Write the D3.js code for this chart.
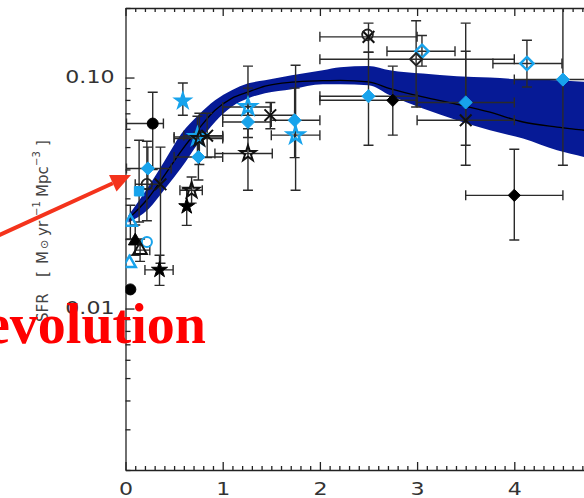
<!DOCTYPE html>
<html lang="en">
<head>
<meta charset="UTF-8">
<title>SFR evolution</title>
<script src="https://d3js.org/d3.v7.min.js"></script>
<style>
  body { margin: 0; background: #fff; }
  svg { display: block; }
  .axis path, .axis line { stroke: #222; stroke-width: 1.3px; }
  .axis text { font-family: "DejaVu Sans", sans-serif; font-size: 17px; fill: #333; }
  .err { stroke: #2a2a2a; stroke-width: 1.4px; fill: none; }
</style>
</head>
<body>
<div id="chart"></div>
<script>
// ---- data (redshift z, SFR density in Msun/yr/Mpc^3) ----
// fit band
const bandZ   = [0.03, 0.235, 0.406, 0.578, 0.749, 0.921, 1.093, 1.263, 1.435, 1.71, 2.03, 2.21, 2.5, 2.72, 3.06, 3.41, 3.75, 4.09, 4.44, 4.72, 5.0];
const bandHi  = [0.0253, 0.0337, 0.0439, 0.0574, 0.0687, 0.0797, 0.0881, 0.0944, 0.0973, 0.1023, 0.1075, 0.1108, 0.1122, 0.1075, 0.104, 0.1013, 0.100, 0.098, 0.0973, 0.0958, 0.095];
const bandLo  = [0.0236, 0.0269, 0.033, 0.0409, 0.052, 0.0642, 0.0747, 0.0813, 0.0855, 0.089, 0.0935, 0.0935, 0.0926, 0.0838, 0.0734, 0.0653, 0.0591, 0.0544, 0.0484, 0.0453, 0.042];
const bandMid = [0.0245, 0.0301, 0.038, 0.0484, 0.0597, 0.0722, 0.0813, 0.0866, 0.0918, 0.0955, 0.0969, 0.0973, 0.0957, 0.0896, 0.0824, 0.0766, 0.0708, 0.0642, 0.061, 0.0591, 0.057];

// points: [z, zLo, zHi, sfr, sfrLo, sfrHi]
const blueDiamond = [
  [0.23, 0.01, 0.47, 0.0404, 0.033, 0.05],
  [0.75, 0.5, 1.0, 0.0453, 0.036, 0.058],
  [1.26, 1.0, 1.5, 0.0642, 0.055, 0.075],
  [1.74, 1.5, 2.0, 0.0653, 0.045, 0.09],
  [2.5, 2.0, 3.0, 0.083, 0.0509, 0.1287],
  [3.5, 3.0, 4.0, 0.078, 0.0509, 0.13],
  [4.5, 4.0, 5.0, 0.098, 0.0417, 0.3]
];
const blueOpenDiamond = [
  [3.05, 2.69, 3.39, 0.13, 0.112, 0.152],
  [4.13, 3.78, 4.49, 0.115, 0.091, 0.145]
];
const blackOpenDiamond = [
  [2.99, 2.0, 4.0, 0.12, 0.0746, 0.176]
];
const blackDiamond = [
  [2.75, 2.0, 3.0, 0.0797, 0.0563, 0.112],
  [4.0, 3.5, 4.5, 0.0309, 0.0198, 0.0489]
];
const blueStarFilled = [
  [0.59, null, null, 0.0792, 0.0687, 0.0947]
];
const blueStarOpen = [
  [0.74, 0.5, 1.0, 0.0553, 0.045, 0.068],
  [1.26, 1.0, 1.5, 0.0746, 0.06, 0.09],
  [1.75, 1.5, 2.0, 0.0563, 0.0325, 0.113]
];
const blackOpenStar = [
  [0.68, 0.56, 0.79, 0.0325, 0.0286, 0.0371],
  [0.76, 0.5, 1.0, 0.0544, 0.042, 0.07],
  [1.26, 0.92, 1.51, 0.0469, 0.0325, 0.112]
];
const blackStar = [
  [0.63, null, null, 0.0277, 0.0229, 0.033],
  [0.35, 0.2, 0.49, 0.0147, 0.0126, 0.017]
];
const blackCross = [
  [0.36, null, null, 0.0345, 0.0157, 0.05],
  [0.84, 0.6, 1.0, 0.056, 0.045, 0.07],
  [1.49, 1.0, 1.74, 0.0687, 0.06, 0.078],
  [2.5, 2.0, 3.0, 0.15, 0.1287, 0.172],
  [3.5, 3.0, 4.0, 0.0653, 0.0417, 0.172]
];
const blackCircle = [
  [0.28, 0.01, 0.39, 0.0632, 0.04, 0.0864],
  [0.05, null, null, 0.0121, null, null]
];
const blackOpenCircle = [
  [0.22, 0.1, 0.35, 0.0345, 0.024, 0.053],
  [2.49, null, null, 0.153, null, null]
];
const blueSquare = [
  [0.14, null, null, 0.0322, 0.0237, 0.0535]
];
const blueOpenCircle = [
  [0.22, null, null, 0.0194, null, null]
];
const blueTriangle = [
  [0.05, null, null, 0.0237, 0.02, 0.028],
  [0.04, null, null, 0.0157, null, null]
];
const blackTriangle = [
  [0.1, null, null, 0.0196, 0.017, 0.023]
];
const blackOpenTriangle = [
  [0.15, 0.1, 0.25, 0.0179, 0.016, 0.02]
];

// ticks
const xTickValues = [0, 1, 2, 3, 4];
const xTickLabels = ["0", "1", "2", "3", "4"];
const yTickValues = [0.01, 0.1];
const yTickLabels = ["0.01", "0.10"];

const W = 584, H = 498;
const lightBlue = "#17a3ec";
const bandColor = "#061a96";

const x = d3.scaleLinear().domain([0, 5]).range([125.5, 125.5 + 5 * 97.2]);
const y = d3.scaleLog().domain([0.002, 0.2]).range([470, 8]);

const svg = d3.select("#chart")
  .append("svg")
    .attr("width", W)
    .attr("height", H);

svg.append("clipPath").attr("id", "plot")
  .append("rect")
    .attr("x", x(0)).attr("y", y(0.2))
    .attr("width", x(5) - x(0)).attr("height", y(0.002) - y(0.2));

// minor ticks
const xMinor = d3.range(1, 50).filter(i => i % 10).map(i => i / 10);
const yMinor = [0.001, 0.01, 0.1].flatMap(d => d3.range(2, 10).map(k => +(k * d).toPrecision(2))).filter(v => v >= 0.002 && v <= 0.2);

// bottom axis
const bottom = svg.append("g").attr("class", "axis").attr("transform", `translate(0,${y(0.002)})`);
bottom.call(d3.axisBottom(x).tickValues(xTickValues).tickFormat((d, i) => xTickLabels[i]).tickSize(-8).tickSizeOuter(0).tickPadding(13));
bottom.selectAll("text").attr("transform", "scale(1.3,1)");
svg.append("g").attr("class", "axis").attr("transform", `translate(0,${y(0.002)})`)
  .call(d3.axisBottom(x).tickValues(xMinor).tickFormat("").tickSize(-4).tickSizeOuter(0))
  .select(".domain").remove();

// top axis
svg.append("g").attr("class", "axis").attr("transform", `translate(0,${y(0.2)})`)
  .call(d3.axisTop(x).tickValues(xTickValues).tickFormat("").tickSize(-8).tickSizeOuter(0));
svg.append("g").attr("class", "axis").attr("transform", `translate(0,${y(0.2)})`)
  .call(d3.axisTop(x).tickValues(xMinor).tickFormat("").tickSize(-4).tickSizeOuter(0))
  .select(".domain").remove();

// left axis
const left = svg.append("g").attr("class", "axis").attr("transform", `translate(${x(0)},0)`);
left.call(d3.axisLeft(y).tickValues(yTickValues).tickFormat((d, i) => yTickLabels[i]).tickSize(-9).tickSizeOuter(0).tickPadding(11));
left.selectAll("text").attr("x", -11 / 1.3).attr("transform", "scale(1.3,1)");
svg.append("g").attr("class", "axis").attr("transform", `translate(${x(0)},0)`)
  .call(d3.axisLeft(y).tickValues(yMinor).tickFormat("").tickSize(-5).tickSizeOuter(0))
  .select(".domain").remove();

// y label
const ylab = svg.append("text")
  .attr("transform", "translate(48,322) rotate(-90)")
  .style("font-family", "DejaVu Sans, sans-serif")
  .style("font-size", "15px")
  .style("fill", "#444");
[["SFR", 0, 0, 15], ["[", 45, 0, 15], ["M", 58, 0, 15], ["\u2299", 73, 0, 11], ["yr", 86, 0, 15], ["\u22121", 106, -8, 10],
 ["Mpc", 125, 0, 15], ["\u22123", 156, -8, 10], ["]", 176, 0, 15]].forEach(([t, px, py, fs]) => {
  ylab.append("tspan").attr("x", px).attr("y", py).style("font-size", fs + "px").text(t);
});

// plot body
const plot = svg.append("g").attr("clip-path", "url(#plot)");
const band = bandZ.map((z, i) => ({ z, lo: bandLo[i], hi: bandHi[i], mid: bandMid[i] }));

plot.append("path")
  .attr("d", d3.area().x(d => x(d.z)).y0(d => y(d.lo)).y1(d => y(d.hi)).curve(d3.curveMonotoneX)(band))
  .attr("fill", bandColor);
plot.append("path")
  .attr("d", d3.line().x(d => x(d.z)).y(d => y(d.mid)).curve(d3.curveMonotoneX)(band))
  .attr("fill", "none")
  .attr("stroke", "#000")
  .attr("stroke-width", 1.3);

const series = [
  { rows: blueDiamond, type: d3.symbolDiamond2, size: 110, fill: lightBlue, stroke: lightBlue, sw: 1 },
  { rows: blueOpenDiamond, type: d3.symbolDiamond2, size: 110, fill: "none", stroke: lightBlue, sw: 2.5 },
  { rows: blackOpenDiamond, type: d3.symbolDiamond2, size: 95, fill: "none", stroke: "#222", sw: 2 },
  { rows: blackDiamond, type: d3.symbolDiamond2, size: 95, fill: "#000", stroke: "#000", sw: 1 },
  { rows: blueStarFilled, type: d3.symbolStar, size: 85, fill: lightBlue, stroke: lightBlue, sw: 1.5 },
  { rows: blueStarOpen, type: d3.symbolStar, size: 80, fill: "none", stroke: lightBlue, sw: 2.5 },
  { rows: blackOpenStar, type: d3.symbolStar, size: 75, fill: "none", stroke: "#111", sw: 2 },
  { rows: blackStar, type: d3.symbolStar, size: 80, fill: "#000", stroke: "#000", sw: 1 },
  { rows: blackCross, type: d3.symbolTimes, size: 90, fill: "none", stroke: "#111", sw: 2 },
  { rows: blackCircle, type: d3.symbolCircle, size: 95, fill: "#000", stroke: "#000", sw: 1 },
  { rows: blackOpenCircle, type: d3.symbolCircle, size: 90, fill: "none", stroke: "#222", sw: 1.8 },
  { rows: blueSquare, type: d3.symbolSquare, size: 90, fill: lightBlue, stroke: lightBlue, sw: 1 },
  { rows: blueOpenCircle, type: d3.symbolCircle, size: 80, fill: "none", stroke: lightBlue, sw: 2 },
  { rows: blueTriangle, type: d3.symbolTriangle, size: 70, fill: "none", stroke: lightBlue, sw: 2.5 },
  { rows: blackTriangle, type: d3.symbolTriangle, size: 80, fill: "#000", stroke: "#000", sw: 1 },
  { rows: blackOpenTriangle, type: d3.symbolTriangle, size: 80, fill: "none", stroke: "#111", sw: 2 }
];

const cap = 5;
const allRows = series.flatMap(s => s.rows);
const errG = plot.append("g");

// vertical error bars + caps
const vRows = allRows.filter(r => r[4] != null);
errG.selectAll(".vbar").data(vRows).join("line").attr("class", "err")
  .attr("x1", d => x(d[0])).attr("x2", d => x(d[0]))
  .attr("y1", d => y(d[4])).attr("y2", d => y(d[5]));
errG.selectAll(".vcap").data(vRows.flatMap(r => [[r[0], r[4]], [r[0], r[5]]])).join("line").attr("class", "err")
  .attr("x1", d => x(d[0]) - cap).attr("x2", d => x(d[0]) + cap)
  .attr("y1", d => y(d[1])).attr("y2", d => y(d[1]));

// horizontal error bars + caps
const hRows = allRows.filter(r => r[1] != null);
errG.selectAll(".hbar").data(hRows).join("line").attr("class", "err")
  .attr("x1", d => x(d[1])).attr("x2", d => x(d[2]))
  .attr("y1", d => y(d[3])).attr("y2", d => y(d[3]));
errG.selectAll(".hcap").data(hRows.flatMap(r => [[r[1], r[3]], [r[2], r[3]]])).join("line").attr("class", "err")
  .attr("x1", d => x(d[0])).attr("x2", d => x(d[0]))
  .attr("y1", d => y(d[1]) - cap).attr("y2", d => y(d[1]) + cap);

// markers
series.forEach(s => {
  plot.append("g").selectAll("path")
    .data(s.rows)
    .join("path")
      .attr("transform", d => `translate(${x(d[0])},${y(d[3])})`)
      .attr("d", d3.symbol().type(s.type).size(s.size))
      .attr("fill", s.fill)
      .attr("stroke", s.stroke)
      .attr("stroke-width", s.sw);
});

// annotation: big red word and arrow
svg.append("text")
  .attr("x", -15)
  .attr("y", 343)
  .style("font-family", "Liberation Serif, Times New Roman, serif")
  .style("font-weight", "bold")
  .style("font-size", "56px")
  .style("fill", "#ff0000")
  .text("evolution");

const arrowFrom = [-5, 237], arrowTip = [131, 175];
const ang = Math.atan2(arrowTip[1] - arrowFrom[1], arrowTip[0] - arrowFrom[0]);
const headLen = 20, headHalf = 9;
const base = [arrowTip[0] - headLen * Math.cos(ang), arrowTip[1] - headLen * Math.sin(ang)];
svg.append("line")
  .attr("x1", arrowFrom[0]).attr("y1", arrowFrom[1])
  .attr("x2", base[0]).attr("y2", base[1])
  .attr("stroke", "#f4331c").attr("stroke-width", 4);
svg.append("path")
  .attr("d", d3.line()([
    arrowTip,
    [base[0] - headHalf * Math.sin(ang), base[1] + headHalf * Math.cos(ang)],
    [base[0] + headHalf * Math.sin(ang), base[1] - headHalf * Math.cos(ang)]
  ]) + "Z")
  .attr("fill", "#f4331c");
</script>
</body>
</html>
